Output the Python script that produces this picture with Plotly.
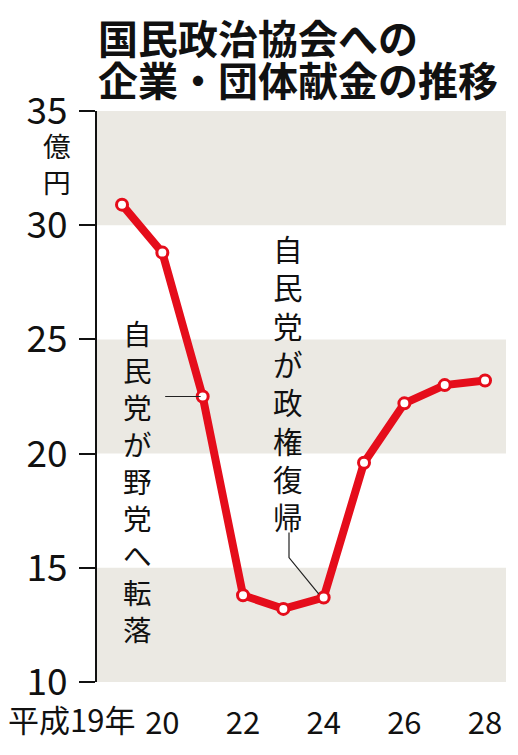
import plotly.graph_objects as go

years = [19, 20, 21, 22, 23, 24, 25, 26, 27, 28]
donations = [30.9, 28.8, 22.5, 13.8, 13.2, 13.7, 19.6, 22.2, 23.0, 23.2]
y_ticks = [10, 15, 20, 25, 30, 35]
x_tickvals = [20, 22, 24, 26, 28]
x_ticktext = ["20", "22", "24", "26", "28"]
first_year_label = "平成19年"
title_lines = ["国民政治協会への", "企業・団体献金の推移"]
unit_label = "億円"
note_lose = "自民党が野党へ転落"
note_back = "自民党が政権復帰"

FONT = "Noto Sans CJK JP"
RED = "#e50d1b"
BAND = "#ebe9e3"
INK = "#111111"

# page is offset by the body's 8px margin; plot area sits at page x 97..506, y 111..685
PW, PH = 409, 574


def px_x(page_x):
    return (page_x - 97) / PW


def px_y(page_y):
    return (685 - page_y) / PH


fig = go.Figure()

for lo, hi in [(10, 15), (20, 25), (30, 35)]:
    fig.add_shape(type="rect", xref="paper", yref="y", x0=0, x1=1, y0=lo, y1=hi,
                  fillcolor=BAND, line_width=0, layer="below")

# leader lines
i21 = years.index(21)
fig.add_shape(type="line", xref="x", yref="y",
              x0=years[i21] - 0.93, x1=years[i21] - 0.05,
              y0=donations[i21], y1=donations[i21],
              line=dict(color="#222", width=1.2))
i24 = years.index(24)
fig.add_shape(type="path", xref="x", yref="y",
              path=f"M {years[i24]-0.86},{16.55} L {years[i24]-0.86},{15.45} L {years[i24]-0.12},{donations[i24]+0.15}",
              line=dict(color="#222", width=1.2))

fig.add_trace(go.Scatter(
    x=years, y=donations, mode="lines+markers",
    line=dict(color=RED, width=8),
    marker=dict(size=11, color="white", line=dict(color=RED, width=3)),
    hoverinfo="skip", showlegend=False))

odd = [y for y in years if y % 2 == 1]
even = [y for y in years if y % 2 == 0]
fig.add_trace(go.Scatter(x=odd, y=[9.48] * len(odd), mode="markers",
                         marker=dict(size=7, color="#9a9a9a"), cliponaxis=False,
                         showlegend=False, hoverinfo="skip"))
fig.add_trace(go.Scatter(x=even, y=[9.48] * len(even), mode="markers",
                         marker=dict(size=9, color=INK), cliponaxis=False,
                         showlegend=False, hoverinfo="skip"))

ann = []
for line, cy in zip(title_lines, [37, 79]):
    ann.append(dict(text=line, xref="paper", yref="paper", x=px_x(96), y=px_y(cy),
                    xanchor="left", yanchor="middle", showarrow=False,
                    font=dict(family=FONT, size=40, color=INK, weight=700)))


def vertical(text, cx, cy, size):
    ann.append(dict(text="<br>".join(text), xref="paper", yref="paper", x=px_x(cx),
                    y=px_y(cy), xanchor="center", yanchor="middle",
                    showarrow=False, font=dict(family=FONT, size=size, color=INK)))


vertical(unit_label, 56.5, 163, 27.7)
vertical(note_lose, 137, 482, 28.5)
vertical(note_back, 288, 383.5, 29.5)

ann.append(dict(text=first_year_label, xref="x", yref="paper", x=19.37, y=px_y(722),
                xanchor="right", yanchor="middle", showarrow=False,
                font=dict(family=FONT, size=31, color=INK)))

fig.update_layout(
    width=510, height=747,
    margin=dict(l=89, r=12, t=103, b=70),
    paper_bgcolor="white", plot_bgcolor="white",
    annotations=ann,
    xaxis=dict(range=[18.38, 28.52], tickvals=x_tickvals, ticktext=x_ticktext,
               showgrid=False, zeroline=False, showline=False, ticks="",
               ticklabelstandoff=20,
               tickfont=dict(family=FONT, size=31, color=INK)),
    yaxis=dict(range=[10, 35], tickvals=y_ticks, showgrid=False, zeroline=False,
               showline=True, linecolor=INK, linewidth=2,
               ticks="outside", ticklen=16, tickwidth=2, tickcolor=INK,
               ticklabelstandoff=4,
               tickfont=dict(family=FONT, size=37, color=INK)),
)

fig.write_html("out.html")
